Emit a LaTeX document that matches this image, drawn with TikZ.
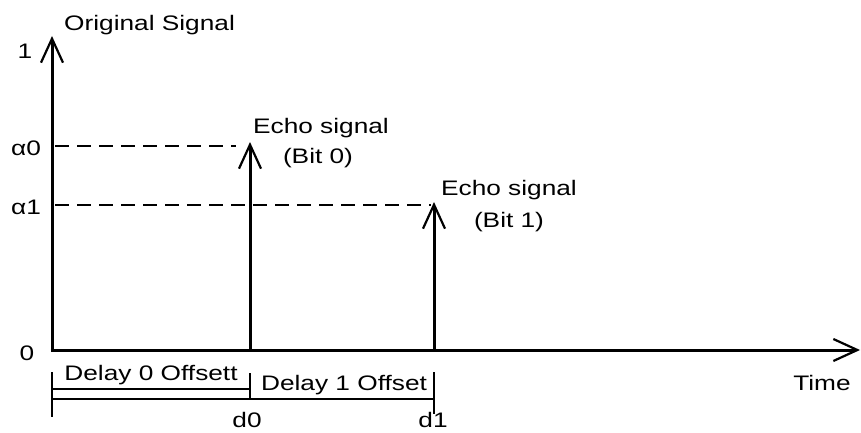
\documentclass[tikz,border=0pt]{standalone}
\usepackage{fontspec}
\setmainfont[FakeStretch=1.25]{Liberation Sans}
\usetikzlibrary{arrows.meta, positioning}

\begin{document}
\begin{tikzpicture}[x=1pt, y=-1pt,
    sigline/.style={line width=3pt, -{Straight Barb[length=24pt, width=22pt, line width=2.2pt]}},
    guide/.style={line width=1.6pt, dash pattern=on 14pt off 8pt},
    offline/.style={line width=1.6pt},
    lbl/.style={inner sep=0pt, font=\fontsize{21}{24}\selectfont},
]
    \useasboundingbox (0,0) rectangle (861,433);

    % Axes
    \coordinate (orig) at (52,350);
    \coordinate (ytop) at (52,36);
    \coordinate (xend) at (860,350);
    \draw[sigline] (orig) -- (ytop);
    \draw[sigline] ([xshift=-1.5pt]orig) -- (xend);

    \node[lbl, anchor=west] (orsig) at (64,25) {Original Signal};
    \node[lbl] (one) at (25,51) {1};
    \node[lbl] (alf0) at (26,148) {α0};
    \node[lbl] (alf1) at (26,207) {α1};
    \node[lbl] (zero) at (27,353) {0};
    \node[lbl] (time) at (822,383) {Time};

    % Echo pulses
    \coordinate (e0bot) at (250,350);
    \coordinate (e0top) at (250,142);
    \coordinate (e1bot) at (434,350);
    \coordinate (e1top) at (434,202);
    \draw[sigline] (e0bot) -- (e0top);
    \draw[sigline] (e1bot) -- (e1top);

    \node[lbl] (echo0) at (321,128) {Echo signal};
    \node[lbl] (bit0) at (318,158) {(Bit 0)};
    \node[lbl] (echo1) at (509,190) {Echo signal};
    \node[lbl] (bit1) at (509,222) {(Bit 1)};

    % Amplitude guides
    \coordinate (g0a) at (55,146);
    \coordinate (g0b) at (236,146);
    \coordinate (g1a) at (55,205);
    \coordinate (g1b) at (431,205);
    \draw[guide] (g0a) -- (g0b);
    \draw[guide] (g1a) -- (g1b);

    % Delay offsets
    \coordinate (t0a) at (52,372);
    \coordinate (t0b) at (52,417);
    \coordinate (tda) at (250,373);
    \coordinate (tdb) at (250,400);
    \coordinate (t1a) at (434,372);
    \coordinate (t1b) at (434,414);
    \draw[offline] (t0a) -- (t0b);
    \draw[offline] (tda) -- (tdb);
    \draw[offline] (t1a) -- (t1b);
    \draw[offline] (52,389) coordinate (h0a) -- (249,389) coordinate (h0b);
    \draw[offline] (52,399) coordinate (h1a) -- (434,399) coordinate (h1b);

    \node[lbl] (del0) at (151,375) {Delay 0 Offsett};
    \node[lbl] (del1) at (344,385) {Delay 1 Offset};
    \node[lbl, anchor=base] (dzero) at (247,427) {d0};
    \node[lbl, anchor=base] (done) at (433,427) {d1};
\end{tikzpicture}
\end{document}
